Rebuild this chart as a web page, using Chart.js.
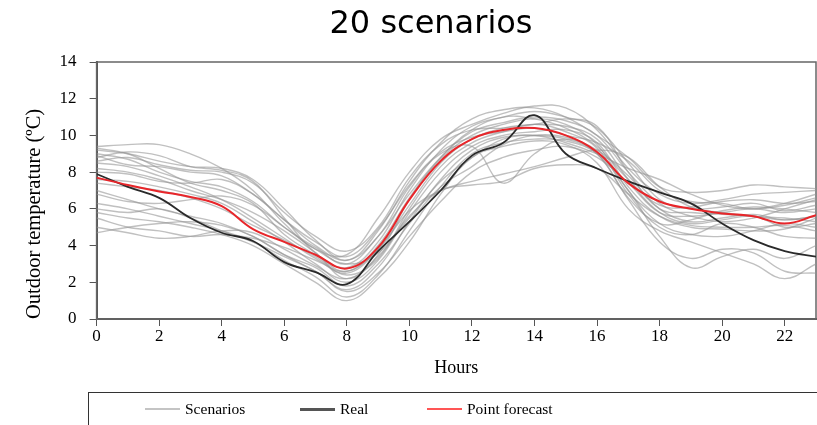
<!DOCTYPE html>
<html>
<head>
<meta charset="utf-8">
<script src="https://cdn.jsdelivr.net/npm/chart.js@4.4.1/dist/chart.umd.min.js"></script>
<style>
  html, body { margin: 0; padding: 0; background: #fff; }
  #wrap { position: relative; width: 817px; height: 425px; overflow: hidden; }
  #title {
    position: absolute; left: 45px; right: 0; top: 3px;
    text-align: center; font: 32px "DejaVu Sans", Verdana, sans-serif; color: #000;
  }
  #legend {
    position: absolute; left: 88px; top: 392px; width: 740px; height: 40px;
    border: 1.5px solid #333; box-sizing: border-box;
    font: 15.5px "Liberation Serif", "Times New Roman", serif; color: #000;
  }
  .item { position: absolute; top: 7px; display: flex; align-items: center; }
  .sw { display: inline-block; width: 35px; margin-right: 5px; }
</style>
</head>
<body>
<div id="wrap">
  <canvas id="c" width="817" height="425"></canvas>
  <div id="title">20 scenarios</div>
  <div id="legend"></div>
</div>
<script>
// hours on the x axis
const hours = [0,1,2,3,4,5,6,7,8,9,10,11,12,13,14,15,16,17,18,19,20,21,22,23];
const xTicks = [0,2,4,6,8,10,12,14,16,18,20,22];
const yTicks = [0,2,4,6,8,10,12,14];

// measured temperature
const real = [7.9,7.2,6.6,5.5,4.7,4.25,3.1,2.55,1.9,3.7,5.3,7.0,8.9,9.6,11.1,9.0,8.2,7.5,6.9,6.3,5.2,4.3,3.7,3.4];
// point forecast
const forecast = [7.7,7.3,6.95,6.65,6.15,4.9,4.2,3.5,2.75,3.9,6.5,8.6,9.8,10.3,10.4,10.0,9.1,7.4,6.4,6.0,5.75,5.6,5.2,5.65];

// 20 scenarios
const scenarios = [
  [9.4,9.5,9.5,9.0,8.2,7.0,5.2,3.8,3.5,5.5,8.0,9.8,10.6,11.2,11.6,11.5,10.3,8.2,6.8,6.3,6.5,6.8,6.9,7.0],
  [9.2,9.0,8.6,8.3,8.2,7.6,6.0,4.3,3.2,4.8,7.5,9.6,10.9,11.4,11.5,11.0,10.0,8.8,7.2,6.9,7.0,7.3,7.2,7.1],
  [8.8,9.1,8.9,8.3,8.1,7.5,5.5,3.6,2.8,4.2,7.0,9.2,10.5,11.0,11.3,11.0,10.4,8.5,6.5,6.0,6.1,6.3,5.9,6.2],
  [9.0,8.7,8.0,7.5,7.2,6.4,5.0,3.9,3.0,4.5,6.8,8.8,10.2,10.7,11.0,10.8,10.0,8.0,6.3,5.6,5.3,5.5,6.0,6.5],
  [8.5,8.3,7.8,7.2,6.5,5.5,4.4,3.3,2.5,3.8,6.2,8.5,9.8,10.4,10.6,10.5,9.8,7.6,5.8,5.2,5.4,5.6,5.0,5.2],
  [8.2,8.0,7.6,7.0,6.5,5.8,4.8,3.6,2.2,3.5,6.5,8.7,10.0,10.6,10.9,10.6,9.5,7.0,5.2,4.6,4.5,4.8,5.2,5.0],
  [7.6,7.5,7.2,6.8,6.3,5.3,4.2,3.0,2.0,3.2,5.8,8.0,9.4,10.0,10.2,10.3,9.6,7.2,5.6,5.0,4.9,4.8,4.9,5.5],
  [7.0,6.5,6.0,5.6,5.2,4.5,3.5,2.6,1.6,2.8,5.3,7.6,9.2,9.9,10.0,9.8,9.0,6.5,4.2,3.3,3.8,3.6,2.6,2.5],
  [6.3,6.0,5.6,5.2,4.8,4.2,3.2,2.3,1.2,2.4,4.8,7.2,9.0,9.6,9.8,9.7,9.0,7.0,4.5,2.8,3.4,3.8,3.3,4.0],
  [5.8,5.5,5.3,5.0,4.6,4.0,3.0,2.0,1.0,2.2,4.2,6.8,8.8,9.4,9.7,9.5,8.5,6.0,4.8,4.2,3.6,3.0,2.2,3.0],
  [4.7,5.0,5.2,5.3,5.1,4.5,3.5,2.8,1.8,3.0,5.2,7.2,8.3,9.5,10.0,9.9,9.2,7.8,6.0,5.3,5.5,5.7,5.4,5.6],
  [5.0,4.7,4.4,4.5,4.8,4.7,3.8,2.9,2.2,3.4,5.6,7.0,7.3,7.5,8.2,8.4,8.2,6.8,5.6,5.1,5.0,5.0,5.1,4.8],
  [5.5,5.0,4.8,4.5,4.6,4.4,3.9,3.2,2.6,3.8,5.9,7.0,7.5,7.9,8.3,8.8,9.2,8.8,7.2,6.1,5.8,5.6,5.5,5.3],
  [8.0,7.9,7.5,7.4,7.6,6.8,5.4,4.0,3.2,4.5,7.2,9.0,9.4,7.4,9.0,9.8,9.0,6.6,5.2,5.4,5.9,6.1,6.0,5.8],
  [6.8,6.4,6.3,6.5,6.7,6.2,5.0,3.8,3.0,3.6,5.5,7.5,8.8,9.8,10.0,9.6,9.0,8.2,7.6,6.8,6.2,6.0,6.3,6.8],
  [8.6,8.8,8.4,8.1,8.0,7.4,5.8,4.5,3.7,5.0,7.7,9.5,10.3,10.4,10.6,10.9,10.5,8.0,6.0,5.8,5.7,5.6,5.4,5.6],
  [7.4,7.2,7.0,6.6,6.0,5.1,4.3,3.4,2.4,3.3,6.0,8.3,9.6,10.2,10.6,10.2,9.3,6.8,5.0,4.6,5.2,5.0,4.5,4.4],
  [9.3,9.0,8.2,7.4,7.0,6.3,4.6,3.5,2.6,4.0,6.6,8.8,10.3,11.0,10.9,10.4,9.4,7.6,6.2,6.1,6.4,6.5,6.3,6.4],
  [6.0,5.8,6.0,5.5,4.8,4.2,3.4,2.6,1.5,2.5,4.5,6.4,8.0,8.8,9.2,9.4,8.8,7.4,5.8,5.6,5.8,6.0,5.8,6.0],
  [8.9,8.4,8.3,8.0,7.8,6.8,5.4,4.2,3.4,4.9,7.3,9.1,9.9,10.2,10.4,10.0,9.6,8.6,7.0,6.4,6.3,6.0,6.2,6.6]
];

const SCEN_COLOR = "rgba(150,150,150,0.6)";
const REAL_COLOR = "#2a2a2a";
const FC_COLOR   = "#e8262a";
const SERIF = "'Liberation Serif', 'Times New Roman', serif";

function toPoints(vals){
  return hours.map((h, i) => ({ x: h, y: vals[i] }));
}

function lineSet(label, vals, color, width, order){
  return {
    label,
    data: toPoints(vals),
    borderColor: color,
    backgroundColor: "transparent",
    borderWidth: width,
    pointRadius: 0,
    tension: 0.4,
    order,
  };
}

const datasets = [
  lineSet("Point forecast", forecast, FC_COLOR, 2, 0),
  lineSet("Real", real, REAL_COLOR, 1.8, 1),
  ...scenarios.map((s, i) => lineSet("Scenario " + (i + 1), s, SCEN_COLOR, 1.4, 2)),
];

// frame around the plot area (top/right sides)
const plotFrame = {
  id: "plotFrame",
  beforeDatasetsDraw(chart){
    const { ctx, chartArea: a } = chart;
    ctx.save();
    ctx.strokeStyle = "#666";
    ctx.lineWidth = 1.5;
    ctx.strokeRect(a.left, a.top, a.right - a.left, a.bottom - a.top);
    ctx.restore();
  }
};

new Chart(document.getElementById("c"), {
  type: "line",
  data: { datasets },
  options: {
    responsive: false,
    animation: false,
    devicePixelRatio: 1,
    layout: { padding: { left: 22, right: 1, top: 62, bottom: 46 } },
    plugins: {
      legend: { display: false },
      title: { display: false },
      tooltip: { enabled: false },
    },
    scales: {
      x: {
        type: "linear",
        min: 0,
        max: 23,
        afterBuildTicks: (s) => { s.ticks = xTicks.map(v => ({ value: v })); },
        ticks: { color: "#000", font: { family: SERIF, size: 17 }, padding: 0, maxRotation: 0 },
        grid: { drawOnChartArea: false, tickLength: 7, color: "#555" },
        border: { color: "#555", width: 2 },
        title: { display: true, text: "Hours", color: "#000", font: { family: SERIF, size: 18 }, padding: { top: 11, bottom: 0 } },
      },
      y: {
        min: 0,
        max: 14,
        afterBuildTicks: (s) => { s.ticks = yTicks.map(v => ({ value: v })); },
        ticks: { color: "#000", font: { family: SERIF, size: 17 }, padding: 13 },
        grid: { drawOnChartArea: false, tickLength: 7, color: "#555" },
        border: { color: "#555", width: 2 },
        title: { display: true, text: "Outdoor temperature (ºC)", align: "start", color: "#000", font: { family: SERIF, size: 20.5 }, padding: { top: 0, bottom: 0 } },
      }
    }
  },
  plugins: [plotFrame]
});

// legend in a framed box under the chart
const legendItems = [
  { text: "Scenarios", color: "#c4c4c4", width: 2, left: 56 },
  { text: "Real", color: "#555", width: 3, left: 211 },
  { text: "Point forecast", color: "#ff5555", width: 2, left: 338 },
];
const legendBox = document.getElementById("legend");
legendItems.forEach(it => {
  const d = document.createElement("div");
  d.className = "item";
  d.style.left = it.left + "px";
  const sw = document.createElement("span");
  sw.className = "sw";
  sw.style.height = it.width + "px";
  sw.style.background = it.color;
  d.appendChild(sw);
  d.appendChild(document.createTextNode(it.text));
  legendBox.appendChild(d);
});
</script>
</body>
</html>
